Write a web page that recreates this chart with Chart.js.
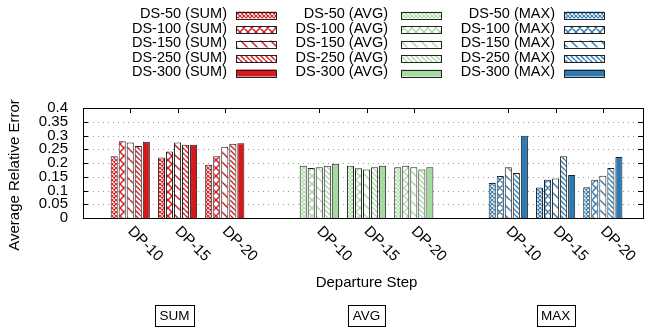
<!DOCTYPE html>
<html>
<head>
<meta charset="utf-8">
<script src="https://cdn.jsdelivr.net/npm/chart.js@4"></script>
<style>
  html, body { margin: 0; padding: 0; background: #fff; }
</style>
</head>
<body>
<canvas id="chart" width="648" height="331"></canvas>
<script>
const steps = ['DP-10', 'DP-15', 'DP-20'];
const aggregates = ['SUM', 'AVG', 'MAX'];
const sizes = ['DS-50', 'DS-100', 'DS-150', 'DS-250', 'DS-300'];

// one row per dataset size, columns follow steps
const sumValues = [
  [0.225, 0.220, 0.194],
  [0.279, 0.242, 0.225],
  [0.275, 0.275, 0.259],
  [0.262, 0.266, 0.270],
  [0.277, 0.266, 0.272]
];
const avgValues = [
  [0.190, 0.190, 0.185],
  [0.182, 0.181, 0.190],
  [0.185, 0.176, 0.185],
  [0.190, 0.185, 0.176],
  [0.197, 0.190, 0.185]
];
const maxValues = [
  [0.127, 0.111, 0.112],
  [0.153, 0.139, 0.139],
  [0.185, 0.144, 0.154],
  [0.164, 0.225, 0.182],
  [0.299, 0.156, 0.222]
];
const yTicks = [0, 0.05, 0.1, 0.15, 0.2, 0.25, 0.3, 0.35, 0.4];

const FONT = '"Liberation Sans", Arial, Helvetica, sans-serif';
const colors = ['#d7191c', '#a6dba0', '#2c7bb6'];
const fills = ['crossFine', 'crossBig', 'diagSparse', 'diagDense', 'solid'];
const allValues = [sumValues, avgValues, maxValues];

// pattern tiles, gnuplot style
function makePattern(kind, color) {
  if (kind === 'solid') return color;
  const size = {crossFine: 4, crossBig: 8, diagSparse: 10, diagDense: 5}[kind];
  const c = document.createElement('canvas');
  c.width = size; c.height = size;
  const g = c.getContext('2d');
  g.fillStyle = '#fff';
  g.fillRect(0, 0, size, size);
  g.strokeStyle = color;
  g.lineWidth = kind === 'crossFine' ? 1.1 : 1.4;
  g.beginPath();
  for (let k = -1; k <= 1; k++) {
    g.moveTo(k * size, 0); g.lineTo(k * size + size, size);
    if (kind === 'crossFine' || kind === 'crossBig') {
      g.moveTo(k * size + size, 0); g.lineTo(k * size, size);
    }
  }
  g.stroke();
  return g.createPattern(c, 'repeat');
}

const patterns = colors.map(col => fills.map(f => makePattern(f, col)));

// every aggregate takes a blank slot plus one slot per step
const slot = (a, s) => a * 4 + s + 1;

const datasets = sizes.map((name, i) => ({
  label: name,
  data: aggregates.flatMap((agg, a) => steps.map((st, s) => ({x: slot(a, s), y: allValues[a][i][s]}))),
  backgroundColor: ctx => patterns[Math.floor(ctx.dataIndex / 3)][i],
  borderColor: '#222',
  borderWidth: 1
}));

const decor = {
  id: 'decor',
  beforeDatasetsDraw(chart) {
    const {ctx, chartArea: ca, scales: {y}} = chart;
    ctx.save();
    ctx.strokeStyle = '#999';
    ctx.lineWidth = 1;
    ctx.setLineDash([1, 4]);
    yTicks.slice(1, -1).forEach(v => {
      const py = Math.round(y.getPixelForValue(v)) + 0.5;
      ctx.beginPath(); ctx.moveTo(ca.left, py); ctx.lineTo(ca.right, py); ctx.stroke();
    });
    ctx.restore();
  },
  afterDatasetsDraw(chart) {
    const {ctx, chartArea: ca, scales: {x, y}} = chart;
    ctx.save();
    ctx.strokeStyle = '#000';
    ctx.lineWidth = 1;
    ctx.beginPath();
    yTicks.forEach(v => {
      const py = Math.round(y.getPixelForValue(v)) + 0.5;
      ctx.moveTo(ca.left, py); ctx.lineTo(ca.left + 5, py);
      ctx.moveTo(ca.right, py); ctx.lineTo(ca.right - 5, py);
    });
    aggregates.forEach((agg, a) => steps.forEach((st, s) => {
      const px = Math.round(x.getPixelForValue(slot(a, s))) + 0.5;
      ctx.moveTo(px, ca.top); ctx.lineTo(px, ca.top + 5);
    }));
    ctx.stroke();
    ctx.strokeRect(Math.round(ca.left) + 0.5, Math.round(ca.top) + 0.5,
      Math.round(ca.right - ca.left), Math.round(ca.bottom - ca.top));

    // rotated step labels
    ctx.fillStyle = '#000';
    ctx.font = '15px ' + FONT;
    ctx.textAlign = 'left';
    ctx.textBaseline = 'middle';
    aggregates.forEach((agg, a) => steps.forEach((st, s) => {
      const px = x.getPixelForValue(slot(a, s));
      ctx.save();
      ctx.translate(px, ca.bottom + 11);
      ctx.rotate(Math.PI / 4);
      ctx.fillText(st, 0, 0);
      ctx.restore();
    }));

    // axis titles
    ctx.textAlign = 'center';
    ctx.font = '15px ' + FONT;
    ctx.fillText('Departure Step', x.getPixelForValue(6), 283);
    ctx.save();
    ctx.translate(15, 175);
    ctx.rotate(-Math.PI / 2);
    ctx.fillText('Average Relative Error', 0, 0);
    ctx.restore();

    // aggregate boxes
    ctx.font = '13.5px ' + FONT;
    aggregates.forEach((agg, a) => {
      const cx = x.getPixelForValue(slot(a, 1)) - (a === 0 ? 3 : 0);
      const w = Math.round(ctx.measureText(agg).width) + 9;
      ctx.strokeRect(Math.round(cx - w / 2) + 0.5, 305.5, w, 21);
      ctx.fillText(agg, cx, 316.5);
    });

    // legend, one column per aggregate
    const textRight = [227, 388, 555];
    const swatchLeft = [236, 401, 564];
    ctx.font = '14.5px ' + FONT;
    ctx.textAlign = 'right';
    aggregates.forEach((agg, a) => sizes.forEach((name, i) => {
      const ty = 14 + i * 14.5;
      ctx.fillStyle = '#000';
      ctx.fillText(name + ' (' + agg + ')', textRight[a], ty);
      ctx.fillStyle = patterns[a][i];
      ctx.fillRect(swatchLeft[a], ty - 2.5, 40, 7);
      ctx.strokeStyle = '#222';
      ctx.strokeRect(swatchLeft[a] + 0.5, Math.round(ty - 2.5) + 0.5, 40, 7);
    }));
    ctx.restore();
  }
};

new Chart(document.getElementById('chart'), {
  type: 'bar',
  data: {datasets},
  options: {
    responsive: false,
    animation: false,
    layout: {padding: {top: 108, right: 5, bottom: 113, left: 0}},
    datasets: {bar: {categoryPercentage: 0.85, barPercentage: 0.88}},
    plugins: {legend: {display: false}, tooltip: {enabled: false}},
    scales: {
      x: {type: 'linear', min: 0, max: 11.85, offset: false, display: false},
      y: {
        min: 0, max: 0.4,
        grid: {display: false},
        border: {display: false},
        afterBuildTicks: s => { s.ticks = yTicks.map(v => ({value: v})); },
        afterFit: s => { s.width = 83; },
        ticks: {color: '#000', padding: 7, autoSkip: false, font: {family: FONT, size: 15}, callback: v => String(v)}
      }
    }
  },
  plugins: [decor]
});
</script>
</body>
</html>
